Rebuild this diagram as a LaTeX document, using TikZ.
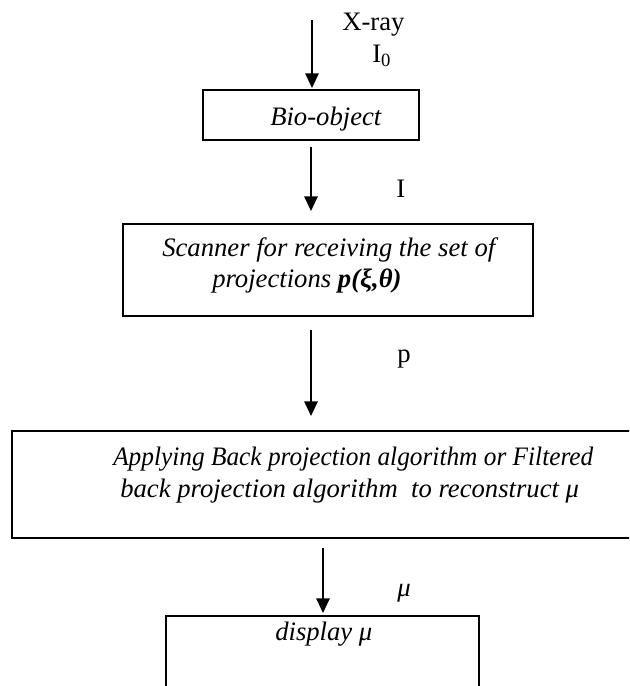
\documentclass[tikz,border=0pt]{standalone}
\usepackage{fontspec}
\setmainfont{Liberation Serif}
\usetikzlibrary{arrows.meta,fit}
\begin{document}
\begin{tikzpicture}[x=0.75pt,y=-0.75pt,
  box/.style={draw, line width=1.4pt, inner sep=0pt, outer sep=0pt},
  flow/.style={line width=1.5pt, -{Triangle[width=10pt,length=11pt]}},
  lbl/.style={anchor=base west, inner sep=0pt, font=\fontsize{20}{24}\selectfont},
  txt/.style={anchor=base west, inner sep=0pt, font=\fontsize{20}{24}\selectfont\itshape}]
\useasboundingbox (0,0) rectangle (629,686);
\clip (0,0) rectangle (629,686);

% process boxes
\node[box, fit={(203,90) (419,140)}] (bio) {};
\node[box, fit={(123,224) (533,316)}] (scan) {};
\node[box, fit={(12,431) (640,538)}] (recon) {};
\node[box, fit={(166,616) (479,700)}] (disp) {};

% box texts
\node[txt] (biotxt) at (270,125) {Bio-object};
\node[txt] (scan1) at (162,256) {Scanner for receiving the set of};
\node[txt] (scan2) at (212,287) {projections \textbf{p(ξ,θ)}};
\node[txt] (rec1) at (113,465) {\scalebox{0.95}[1]{Applying Back projection algorithm or Filtered}};
\node[txt] (rec2) at (120,497) {back projection algorithm\ \ to reconstruct μ};
\node[txt] (disptxt) at (275,640) {display μ};

% signal labels
\node[lbl] (xray) at (342,30) {X-ray};
\node[lbl] (izero) at (372,62) {I\textsubscript{0}};
\node[lbl] (ilbl) at (396,197) {I};
\node[lbl] (plbl) at (397,362) {p};
\node[lbl] (mulbl) at (397,596) {\textit{μ}};

% connectors
\coordinate (src) at (312,20);
\coordinate (a4) at (323,0);
\draw[flow, shorten >=1.5pt] (src) -- (src |- bio.north);
\draw[flow, shorten <=5.25pt, shorten >=9.75pt] (bio.south) -- (bio.south |- scan.north);
\draw[flow, shorten <=10.5pt, shorten >=11.25pt] (bio.south |- scan.south) -- (bio.south |- recon.north);
\draw[flow, shorten <=7.5pt, shorten >=2.25pt] (a4 |- recon.south) -- (a4 |- disp.north);
\end{tikzpicture}
\end{document}
